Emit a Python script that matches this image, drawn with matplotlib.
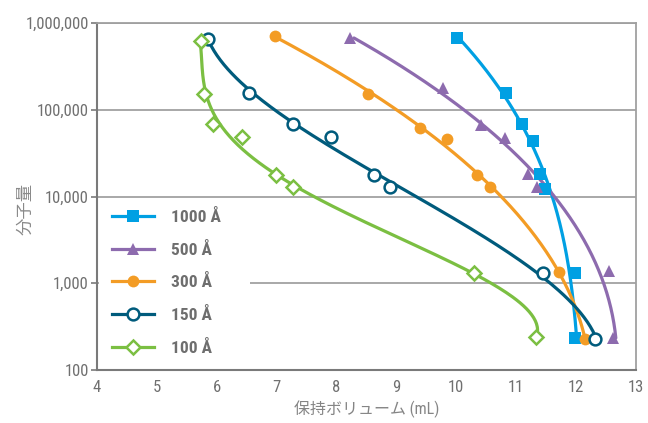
import numpy as np
import matplotlib
matplotlib.use('Agg')
import matplotlib.pyplot as plt
from matplotlib import font_manager
from matplotlib.lines import Line2D
from matplotlib.patches import Rectangle
from matplotlib.ticker import FixedLocator, NullLocator

installed = set(f.name for f in font_manager.fontManager.ttflist)
narrow = [n for n in ['Roboto Condensed', 'Liberation Sans Narrow', 'Open Sans Condensed',
                      'Arial Narrow', 'Roboto'] if n in installed][:1]
plt.rcParams['font.family'] = narrow + ['Noto Sans CJK JP', 'DejaVu Sans']

# calibration standards: retention volume (mL) and molecular weight per column
labels = ['1000 Å', '500 Å', '300 Å', '150 Å', '100 Å']
colors = ['#00A0E3', '#8D6BAE', '#F39C25', '#005B7C', '#7BBF42']
markers = ['s', '^', 'o', 'o', 'D']
filled = [True, True, True, False, False]
fit_order = [3, 3, 3, 3, 4]

vol_1000 = [10.01, 10.83, 11.10, 11.28, 11.40, 11.48, 11.98, 11.98]
mw_1000 = [672000, 156000, 68500, 43600, 18200, 12200, 1310, 234]

vol_500 = [8.22, 9.78, 10.41, 10.81, 11.20, 11.35, 12.55, 12.61]
mw_500 = [672000, 178000, 66700, 47000, 18200, 12900, 1380, 234]

vol_300 = [6.97, 8.52, 9.39, 9.84, 10.34, 10.56, 11.71, 12.15]
mw_300 = [707000, 152000, 61600, 46000, 17700, 12900, 1350, 230]

vol_150 = [5.85, 6.54, 7.27, 7.91, 8.62, 8.89, 11.45, 12.31]
mw_150 = [655000, 156000, 68600, 48500, 17700, 12900, 1310, 230]

vol_100 = [5.73, 5.79, 5.94, 6.42, 6.99, 7.27, 10.29, 11.33]
mw_100 = [620000, 152000, 68600, 48500, 17700, 12900, 1310, 240]

vols = [vol_1000, vol_500, vol_300, vol_150, vol_100]
mws = [mw_1000, mw_500, mw_300, mw_150, mw_100]

y_ticks = [100, 1000, 10000, 100000, 1000000]
y_ticklabels = ['100', '1,000', '10,000', '100,000', '1,000,000']
x_ticks = list(range(4, 14))

fig = plt.figure(figsize=(6.48, 4.23), dpi=100)
ax = fig.add_axes([0.1497, 0.1253, 0.8318, 0.8203])

handles = []
for v, m, c, mk, f, deg in zip(vols, mws, colors, markers, filled, fit_order):
    v = np.array(v)
    logm = np.log10(m)
    # calibration fit: volume as a polynomial in log(MW)
    coef = np.polyfit(logm, v, deg)
    lm = np.linspace(logm.min(), logm.max(), 200)
    ax.plot(np.polyval(coef, lm), 10 ** lm, color=c, lw=2.3, solid_capstyle='round')
    face = c if f else 'white'
    ms = {'s': 8, 'o': 8.5, '^': 9, 'D': 7.5}[mk]
    ax.plot(v, m, linestyle='none', marker=mk, ms=ms, mfc=face, mec=c,
            mew=0 if f else 1.8, zorder=3)
    handles.append(Line2D([0], [0], color=c, lw=2.3, marker=mk, ms=ms,
                          mfc=face, mec=c, mew=0 if f else 1.8))

ax.set_yscale('log')
ax.set_xlim(4, 13)
ax.set_ylim(100, 1000000)
ax.yaxis.set_major_locator(FixedLocator(y_ticks))
ax.yaxis.set_minor_locator(NullLocator())
ax.set_yticklabels(y_ticklabels)
ax.set_xticks(x_ticks)

for yv in y_ticks[1:]:
    ax.axhline(yv, color='#9a9a9a', lw=1.2, zorder=0)

# white panel behind the legend
ax.add_patch(Rectangle((0.004, 0.03), 0.28, 0.445, transform=ax.transAxes,
                       facecolor='white', edgecolor='none', zorder=0.5))

for s in ['left', 'bottom']:
    ax.spines[s].set_color('#7a7a7a')
    ax.spines[s].set_linewidth(1.5)
for s in ['top', 'right']:
    ax.spines[s].set_color('#a0a0a0')
    ax.spines[s].set_linewidth(1.3)

ax.tick_params(axis='y', length=4, width=1.2, color='#7a7a7a', labelsize=12,
               labelcolor='#707070', pad=2)
ax.tick_params(axis='x', length=0, labelsize=12, labelcolor='#707070', pad=7)

ax.set_xlabel('保持ボリューム (mL)', fontsize=11.5, color='#858585', labelpad=4)
ax.set_ylabel('分子量', fontsize=12.5, color='#8a8a8a')
ax.yaxis.set_label_coords(-0.118, 0.465)

leg = ax.legend(handles, labels, loc='lower left', bbox_to_anchor=(0.015, 0.02),
                frameon=False, handlelength=2.4, handletextpad=1.0,
                labelspacing=0.97, borderpad=0.4, borderaxespad=0,
                prop={'size': 12.5, 'weight': 'bold'})
for t in leg.get_texts():
    t.set_color('#6e6e6e')

fig.savefig('out.png', dpi=100)
